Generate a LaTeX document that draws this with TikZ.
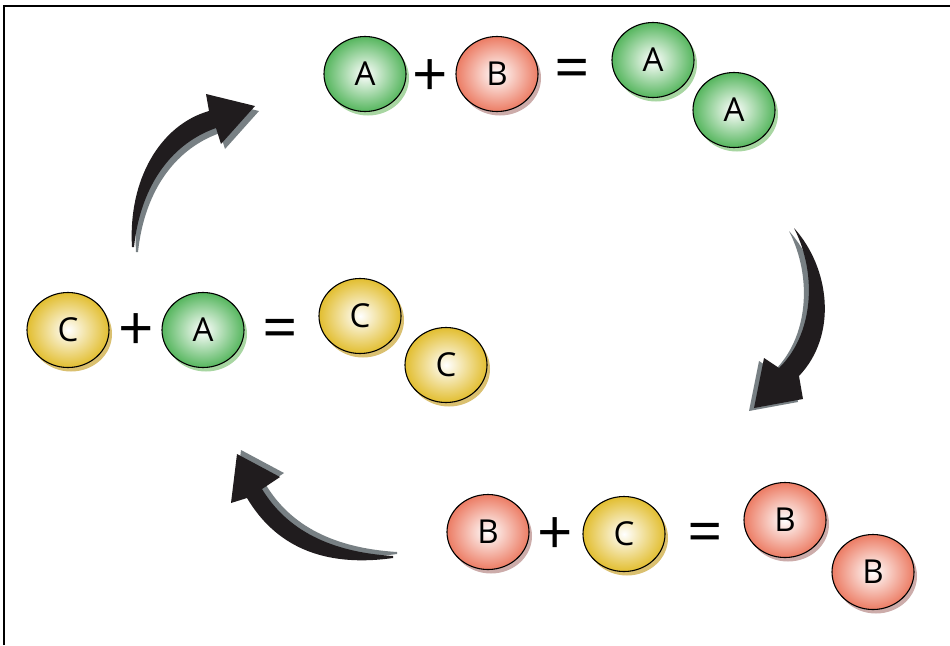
\documentclass[tikz,border=0pt]{standalone}
\usepackage{fontspec}
\setmainfont{Open Sans}
\usetikzlibrary{shapes.geometric,shadows}
\definecolor{gA}{RGB}{86,182,94}
\definecolor{gAs}{RGB}{168,214,162}
\definecolor{rB}{RGB}{236,124,100}
\definecolor{rBs}{RGB}{204,172,170}
\definecolor{yC}{RGB}{226,190,48}
\definecolor{yCs}{RGB}{218,192,112}
\definecolor{arrowgrey}{RGB}{120,128,132}
\definecolor{arrowblack}{RGB}{32,28,30}
\newcommand\arrowOne{(132,247) .. controls (128,180) and (160,125) .. (209,111) -- (206,94) -- (255,106) -- (221,144) -- (216,128) .. controls (168,145) and (140,190) .. (134,247) -- cycle}
\newcommand\arrowTwo{(794,228) .. controls (830,268) and (838,335) .. (799,376) -- (803,399) -- (754,408) -- (764,358) -- (779,368) .. controls (813,335) and (818,275) .. (794,228) -- cycle}
\newcommand\arrowThree{(393,556) .. controls (330,552) and (287,530) .. (262,489) -- (280,477) -- (237,454) -- (231,503) -- (247,498) .. controls (275,545) and (322,568) .. (393,558) -- cycle}
\begin{document}
\begin{tikzpicture}[x=1pt,y=-1pt,
  ball/.style={ellipse, draw=black, line width=1.1pt, minimum width=82pt, minimum height=75pt, inner sep=0pt, font=\fontsize{33}{34}\selectfont},
  ballA/.style={ball, inner color=white, outer color=gA, general shadow={shadow xshift=3pt, shadow yshift=-4pt, fill=gAs}},
  ballB/.style={ball, inner color=white, outer color=rB, general shadow={shadow xshift=3pt, shadow yshift=-4pt, fill=rBs}},
  ballC/.style={ball, inner color=white, outer color=yC, general shadow={shadow xshift=3pt, shadow yshift=-4pt, fill=yCs}},
  op/.style={font=\fontsize{62}{62}\selectfont, inner sep=0pt},
  arrowbody/.style={fill=arrowblack},
  arrowshade/.style={fill=arrowgrey}
]
\useasboundingbox (0,0) rectangle (950,645);
\fill[white] (0,0) rectangle (950,645);
\draw[line width=2.6pt] (4,645) -- (4,6) -- (950,6);

% arrows
\fill[arrowshade, shift={(4,5)}] \arrowOne;
\fill[arrowbody] \arrowOne;
\fill[arrowshade, shift={(-5,3)}] \arrowTwo;
\fill[arrowbody] \arrowTwo;
\fill[arrowshade, shift={(4,-4)}] \arrowThree;
\fill[arrowbody] \arrowThree;

% top equation
\node[ballA] (a1) at (365,74) {A};
\node[op] (p1) at (430,78) {+};
\node[ballB] (b1) at (497,74) {B};
\node[op] (e1) at (572,74) {=};
\node[ballA] (a2) at (653,60) {A};
\node[ballA] (a3) at (734,110) {A};

% middle equation
\node[ballC] (c1) at (68,330) {C};
\node[op] (p2) at (136,332) {+};
\node[ballA] (a4) at (203,330) {A};
\node[op] (e2) at (280,334) {=};
\node[ballC] (c2) at (360,316) {C};
\node[ballC] (c3) at (446,365) {C};

% bottom equation
\node[ballB] (b2) at (488,532) {B};
\node[op] (p3) at (555,536) {+};
\node[ballC] (c4) at (624,534) {C};
\node[op] (e3) at (705,538) {=};
\node[ballB] (b3) at (785,520) {B};
\node[ballB] (b4) at (873,572) {B};
\end{tikzpicture}
\end{document}
